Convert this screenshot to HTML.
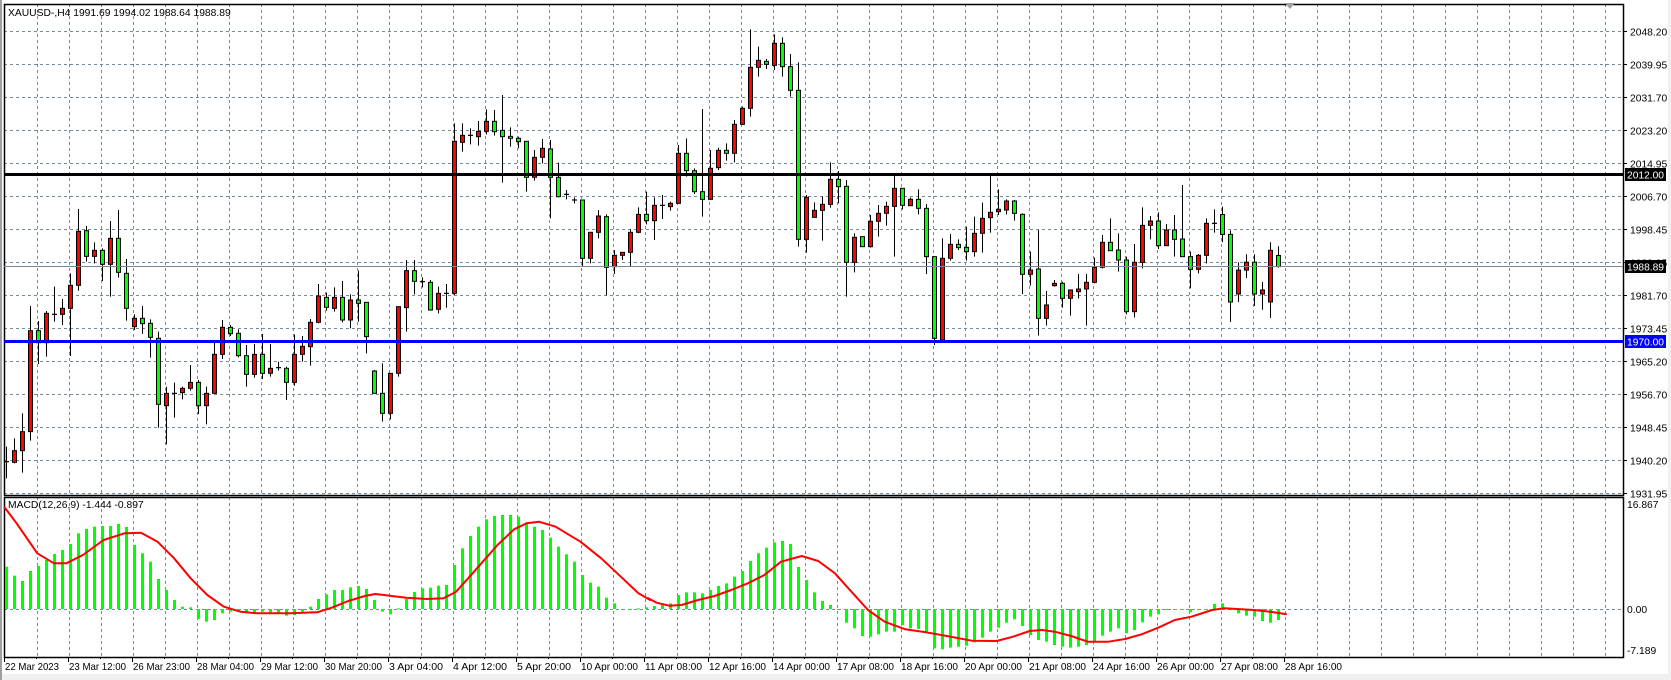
<!DOCTYPE html>
<html><head><meta charset="utf-8">
<style>
html,body{margin:0;padding:0;background:#fff;}
svg{display:block;}
text{font-family:"Liberation Sans",sans-serif;font-size:10.3px;fill:#000;}
</style></head>
<body>
<svg id="c" width="1671" height="680" xmlns="http://www.w3.org/2000/svg">
<rect x="0" y="0" width="1671" height="680" fill="#fff"/>
<rect x="0" y="674" width="1671" height="6" fill="#f0f0f0"/>
<rect x="1668" y="0" width="3" height="680" fill="#f0f0f0"/>
<rect x="0" y="0" width="2" height="680" fill="#a0a0a0"/>
<g id="grid"></g>
<g id="macd"></g>
<g id="cand"></g>
<g id="ov"></g>
</svg>
<script>
var NS="http://www.w3.org/2000/svg";
function el(p,t,a,txt){var e=document.createElementNS(NS,t);for(var k in a)e.setAttribute(k,a[k]);if(txt!==undefined)e.textContent=txt;document.getElementById(p).appendChild(e);return e;}
var L=4,R=1623,T=4,MB=495,MT=497,MBt=657;
function py(p){return 31+(2048.2-p)*3.972;}
var dash={stroke:"#778899","stroke-width":1,"stroke-dasharray":"3,3"};
for(var x=37;x<R;x+=32){
 el("grid","line",Object.assign({x1:x+.5,y1:T,x2:x+.5,y2:MB},dash));
 el("grid","line",Object.assign({x1:x+.5,y1:MT,x2:x+.5,y2:MBt},dash));
}
var lv=["2048.20","2039.95","2031.70","2023.20","2014.95","2006.70","1998.45","1989.95","1981.70","1973.45","1965.20","1956.70","1948.45","1940.20","1931.95"];
lv.forEach(function(s){var y=Math.round(py(parseFloat(s)))+.5;
 el("grid","line",Object.assign({x1:L,y1:y,x2:R,y2:y},dash));
 el("grid","line",{x1:R,y1:y,x2:R+4,y2:y,stroke:"#000"});
 el("grid","text",{x:1630,y:y+4},s);
});
el("grid","line",Object.assign({x1:L,y1:609.5,x2:R,y2:609.5},dash));
el("grid","text",{x:1627,y:613},"0.00");
el("grid","text",{x:1627,y:508},"16.867");
el("grid","text",{x:1627,y:654},"-7.189");
el("grid","rect",{x:L+.5,y:T+.5,width:R-L,height:MB-T,fill:"none",stroke:"#000","stroke-width":1.5});
el("grid","rect",{x:L+.5,y:MT+.5,width:R-L,height:MBt-MT,fill:"none",stroke:"#000","stroke-width":1.5});
var xl=["22 Mar 2023","23 Mar 12:00","26 Mar 23:00","28 Mar 04:00","29 Mar 12:00","30 Mar 20:00","3 Apr 04:00","4 Apr 12:00","5 Apr 20:00","10 Apr 00:00","11 Apr 08:00","12 Apr 16:00","14 Apr 00:00","17 Apr 08:00","18 Apr 16:00","20 Apr 00:00","21 Apr 08:00","24 Apr 16:00","26 Apr 00:00","27 Apr 08:00","28 Apr 16:00"];
xl.forEach(function(s,i){var x=4+64*i;el("grid","line",{x1:x+.5,y1:MBt,x2:x+.5,y2:MBt+5,stroke:"#000"});el("grid","text",{x:x+1,y:670,textLength:s.length>11?57:(s.length==11?54:50),lengthAdjust:"spacingAndGlyphs"},s);});
for(var i=0;i<41;i++){var x=4+32*i;el("grid","line",{x1:x+.5,y1:MBt,x2:x+.5,y2:MBt+2,stroke:"#000"});}
el("grid","text",{x:8,y:16,"xml:space":"preserve"},"XAUUSD-,H4  1991.69 1994.02 1988.64 1988.89");
el("grid","text",{x:8,y:508},"MACD(12,26,9) -1.444 -0.897");
el("grid","path",{d:"M1285 3 L1295 3 L1290 9 Z",fill:"#a0a0a0"});

var h1=[215,242,258,228,213,195,177,165,147,115,102,95,93,93,87,96,150,175,200,252,285,315,335,337,372,380,375,355,350,350,350,352,350,352,355,362,360,350,335,312,298,285,285,277,273,282,315,350,358,340,312,291,280,278,272,270,210,160,123,95,73,63,60,60,65,87,95,105,128,155,178,200,240,263,275,308,325,342,345,340];
var h2=[337,333,328,325,300,292,292,295,285,273,265,245,228,198,175,158,142,138,147,216,255,292,318,330,342,383,400,423,425,418,410,410,390,400,402,412,460,463,458,455,452,442,428,410,398,383,373,393,420,435,440,450,455,458,455,450,440,422,410,400,415,405,382,365,358,345,342,342,352,345,342,327,325,345,355,362,365,378,383,375];
var h=h1.concat(h2);
h.forEach(function(v,i){var y=495+v/3;var x=6+8*i-1;var y0=609;
 var t=Math.min(y,y0),hh=Math.abs(y-y0);if(hh<1)hh=1;
 el("macd","rect",{x:x,y:t,width:3,height:hh,fill:"#00ff00"});});
var s1=[[10,35],[40,85],[90,175],[130,205],[160,205],[200,180],[250,135],[300,115],[340,113],[380,140],[420,190],[460,250],[500,300],[540,335],[580,350],[620,355],[700,355],[765,352],[800,338],[840,318],[880,303],[905,297],[940,302],[980,308],[1030,312],[1070,310],[1100,290],[1140,235],[1200,150],[1240,103],[1270,85],[1300,80],[1340,95],[1400,140],[1450,190],[1500,248],[1540,295],[1568,315]];
var s2=[[20,310],[40,323],[70,332],[100,330],[140,315],[180,303],[220,285],[260,265],[300,240],[340,200],[390,183],[430,198],[470,235],[510,290],[550,345],[590,380],[640,403],[690,412],[740,423],[800,437],[860,438],[900,425],[940,408],[970,405],[1000,410],[1040,423],[1080,440],[1130,440],[1170,432],[1210,418],[1250,398],[1290,375],[1330,365],[1380,345],[1410,340],[1440,342],[1480,345],[1520,350],[1560,358]];
var pts=s1.map(function(p){return (p[0]/2.412).toFixed(1)+","+(495+p[1]/3).toFixed(1);}).concat(s2.map(function(p){return (640+p[0]/2.412).toFixed(1)+","+(495+p[1]/3).toFixed(1);}));
el("macd","polyline",{points:pts.join(" "),fill:"none",stroke:"#ff0000","stroke-width":2,"stroke-linejoin":"round"});

var segs=[
 {oy:180,s:0,d:[["d",845,845,800,895],["r",812,847,775,850],["r",755,812,700,878],["r",452,755,378,782],["g",452,488,423,552],["r",400,488,393,530],["d",403,403,320,425],["r",385,403,357,435],["r",316,385,280,528],["r",154,316,87,332],["g",152,229,138,245],["r",211,229,187,250],["g",211,253,205,303],["r",175,253,123,350],["g",175,277,90,293],["g",280,385,237,422],["r",415,440,403,450],["g",415,431,378,462],["g",430,472,418,533],["g",475,673,455,743],["r",640,677,620,793],["d",640,640,608,713],["r",625,638,620,658],["r",607,625,555,632],["g",607,677,600,702],["r",640,677,620,733],["r",523,640,487,640],["r",442,523,420,537],["g",442,461,435,468],["g",460,527,448,532],["g",527,583,495,620],["r",523,583,492,593],["g",523,580,462,597],["r",565,580,492,590],["d",563,563,545,572],["g",565,607,560,660],["r",523,607,463,617],["r",499,523,468,545]]},
 {oy:80,s:38,d:[["r",727,800,717,857],["r",648,727,612,730],["g",652,682,638,692],["r",652,685,622,695],["g",652,720,603,727],["r",660,720,643,745],["g",660,670,572,725],["g",667,770,667,820],["g",873,940,870,940],["g",940,1000,850,1025],["r",880,1000,880,1018],["r",680,880,680,890],["r",572,683,540,755],["g",572,604,540,643],["d",605,605,592,622],["g",607,690,600,692],["r",640,688,620,700],["d",640,640,612,683],["r",184,640,130,645],["r",166,187,130,215],["d",166,166,145,193],["r",154,170,123,197],["r",124,154,88,163],["g",124,155,90,167],["g",151,170,45,308],["g",169,175,142,200],["g",175,185,170,205],["g",184,292,184,335],["r",232,292,210,302],["r",205,232,177,250],["g",207,292,180,415],["g",292,350,248,352],["d",343,343,330,358],["d",360,360,352,370],["g",360,535,360,558],["r",457,535,457,550],["r",408,457,390,475]]},
 {oy:20,s:75,d:[["g",590,742,583,826],["r",706,740,690,762],["r",697,706,697,720],["r",637,697,628,740],["r",583,637,562,640],["g",583,602,515,613],["r",556,602,532,660],["d",556,556,525,597],["r",550,560,545,572],["r",400,550,375,550],["g",400,452,355,470],["g",452,515,445,522],["g",515,538,267,590],["r",445,538,390,540],["r",391,443,383,450],["g",391,400,370,422],["r",313,400,300,427],["r",265,313,260,315],["r",142,265,28,290],["r",121,142,80,170],["g",124,133,117,147],["r",70,136,43,150],["g",70,140,52,170],["g",140,211,102,230],["g",211,658,127,680],["r",532,658,525,698],["r",571,592,547,592],["r",553,571,530,662],["r",478,553,427,563],["g",478,500,453,550],["g",499,727,480,830],["r",652,727,640,757],["g",650,680,650,680],["r",604,680,585,683],["r",580,604,555,650],["r",559,580,545,617],["r",505,559,467,710],["g",505,556,505,568]]},
 {oy:150,s:113,d:[["r",148,167,143,167],["g",148,175,118,193],["g",175,320,162,372],["g",320,565,320,585],["r",325,570,265,578],["r",283,325,252,332],["g",283,293,268,300],["g",292,305,230,332],["r",250,305,200,320],["r",205,250,158,308],["r",187,203,78,248],["r",178,185,118,195],["r",153,180,148,193],["g",153,190,150,212],["g",193,373,190,432],["r",360,373,305,407],["g",357,505,240,557],["r",465,505,423,527],["r",400,407,390,410],["g",400,445,395,473],["r",420,445,418,497],["r",417,425,372,445],["r",397,417,372,527],["r",352,397,323,400],["r",277,352,255,355],["g",277,302,205,302],["g",300,330,250,365],["g",330,485,320,493],["r",337,485,282,502],["r",226,337,172,355],["r",213,226,198,268],["g",213,287,187,297],["r",240,287,222,287],["g",240,268,195,320],["g",267,320,105,320],["g",320,358,305,415],["r",316,358,312,370],["r",220,316,205,340],["d",220,220,178,248]]},
 {oy:0,s:152,real:1,d:[["g",214.5,234.4,206.6,242.3],["g",234.4,302,230.4,321.9],["r",270.1,294,262.2,302],["r",262.2,270.1,254.2,278],["g",262.2,294,254.2,306],["r",290,294,282,309.8],["r",250.3,302,242.3,317.9],["g",255.5,266.6,246.2,267.6]]}
];
segs.forEach(function(sg){sg.d.forEach(function(c,k){
 var i=sg.s+k;var cx=6+8*i+.5;
 var f=sg.real?function(v){return v;}:function(v){return sg.oy+v/3;};
 var bt=f(c[1]),bb=f(c[2]),wt=f(c[3]),wb=f(c[4]);
 el("cand","line",{x1:cx,y1:wt,x2:cx,y2:wb,stroke:"#000","stroke-width":1});
 if(c[0]=="d"||bb-bt<1.5){el("cand","line",{x1:cx-2.5,y1:bt,x2:cx+2.5,y2:bt,stroke:"#000","stroke-width":1.2});}
 else el("cand","rect",{x:cx-2,y:bt,width:4,height:bb-bt,fill:c[0]=="r"?"#ff0000":"#00ff00",stroke:"#000","stroke-width":1});
});});

el("ov","line",{x1:L,y1:266.5,x2:R,y2:266.5,stroke:"#778899","stroke-width":1});
el("ov","rect",{x:L,y:173,width:R-L,height:3,fill:"#000"});
el("ov","rect",{x:L,y:340,width:R-L,height:3,fill:"#0000ff"});
function box(y,col,s){el("ov","rect",{x:1625,y:y,width:41,height:13,fill:col});
 el("ov","text",{x:1627,y:y+10.5,style:"fill:#fff",textLength:37,lengthAdjust:"spacingAndGlyphs"},s);}
box(168,"#000","2012.00");box(260,"#000","1988.89");box(335,"#0000ff","1970.00");
</script>
</body></html>
